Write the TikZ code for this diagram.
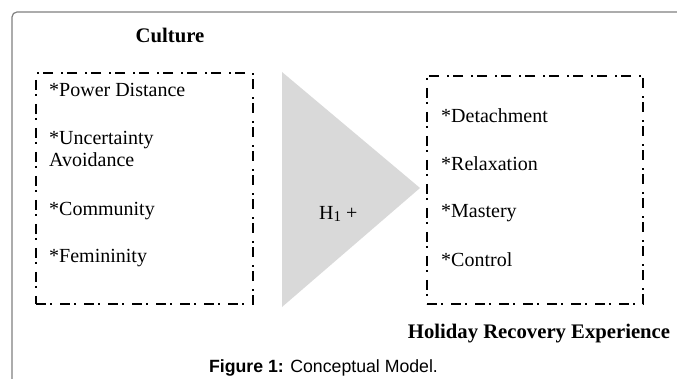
\documentclass[tikz,border=0pt]{standalone}
\usepackage{fontspec}
\setmainfont{Liberation Serif}
\newfontfamily\capfont{Liberation Sans}
\begin{document}
\begin{tikzpicture}[x=1pt,y=-1pt,
  dashbox/.style={draw=black, line width=2pt, dash pattern=on 10pt off 4pt on 2pt off 8pt},
  item/.style={anchor=base west, inner sep=0pt, font=\fontsize{20}{24}\selectfont},
  head/.style={anchor=base, inner sep=0pt, font=\fontsize{20.7}{24}\selectfont\bfseries},
  frame/.style={draw=black!50, line width=1.2pt, rounded corners=5pt}
]
\useasboundingbox (0,0) rectangle (677,379);
% outer frame
\draw[frame] (12,379) -- (12,12) -- (677,12);
% headings
\node[head] (culture) at (170,43) {Culture};
\node[head] (holiday) at (539,338) {Holiday Recovery Experience};
\node[anchor=base, inner sep=0pt, font=\capfont\fontsize{17.7}{20}\selectfont] (caption) at (323.5,372) {\textbf{Figure 1:} Conceptual Model.};
% left box
\node[dashbox, minimum width=217pt, minimum height=231pt, anchor=north west, inner sep=0pt] (leftbox) at (35,72) {};
\node[item] (pd) at (49,97) {*Power Distance};
\node[item] (ua1) at (49,145) {*Uncertainty};
\node[item] (ua2) at (49,167) {Avoidance};
\node[item] (com) at (49,216) {*Community};
\node[item] (fem) at (49,263) {*Femininity};
% triangle
\coordinate (ttop) at (282,72);
\coordinate (tbot) at (282,307);
\coordinate (tapex) at (420,188);
\fill[black!15] (ttop) -- (tapex) -- (tbot) -- cycle;
\node[anchor=base west, inner sep=0pt, font=\fontsize{20}{24}\selectfont] (hyp) at (319,220) {H{\fontsize{15}{15}\selectfont\raisebox{-2pt}{1}} +};
% right box
\node[dashbox, minimum width=216pt, minimum height=228pt, anchor=north west, inner sep=0pt] (rightbox) at (426,75) {};
\node[item] (det) at (441,123) {*Detachment};
\node[item] (rel) at (441,171) {*Relaxation};
\node[item] (mas) at (441,218) {*Mastery};
\node[item] (con) at (441,266) {*Control};
\end{tikzpicture}
\end{document}
